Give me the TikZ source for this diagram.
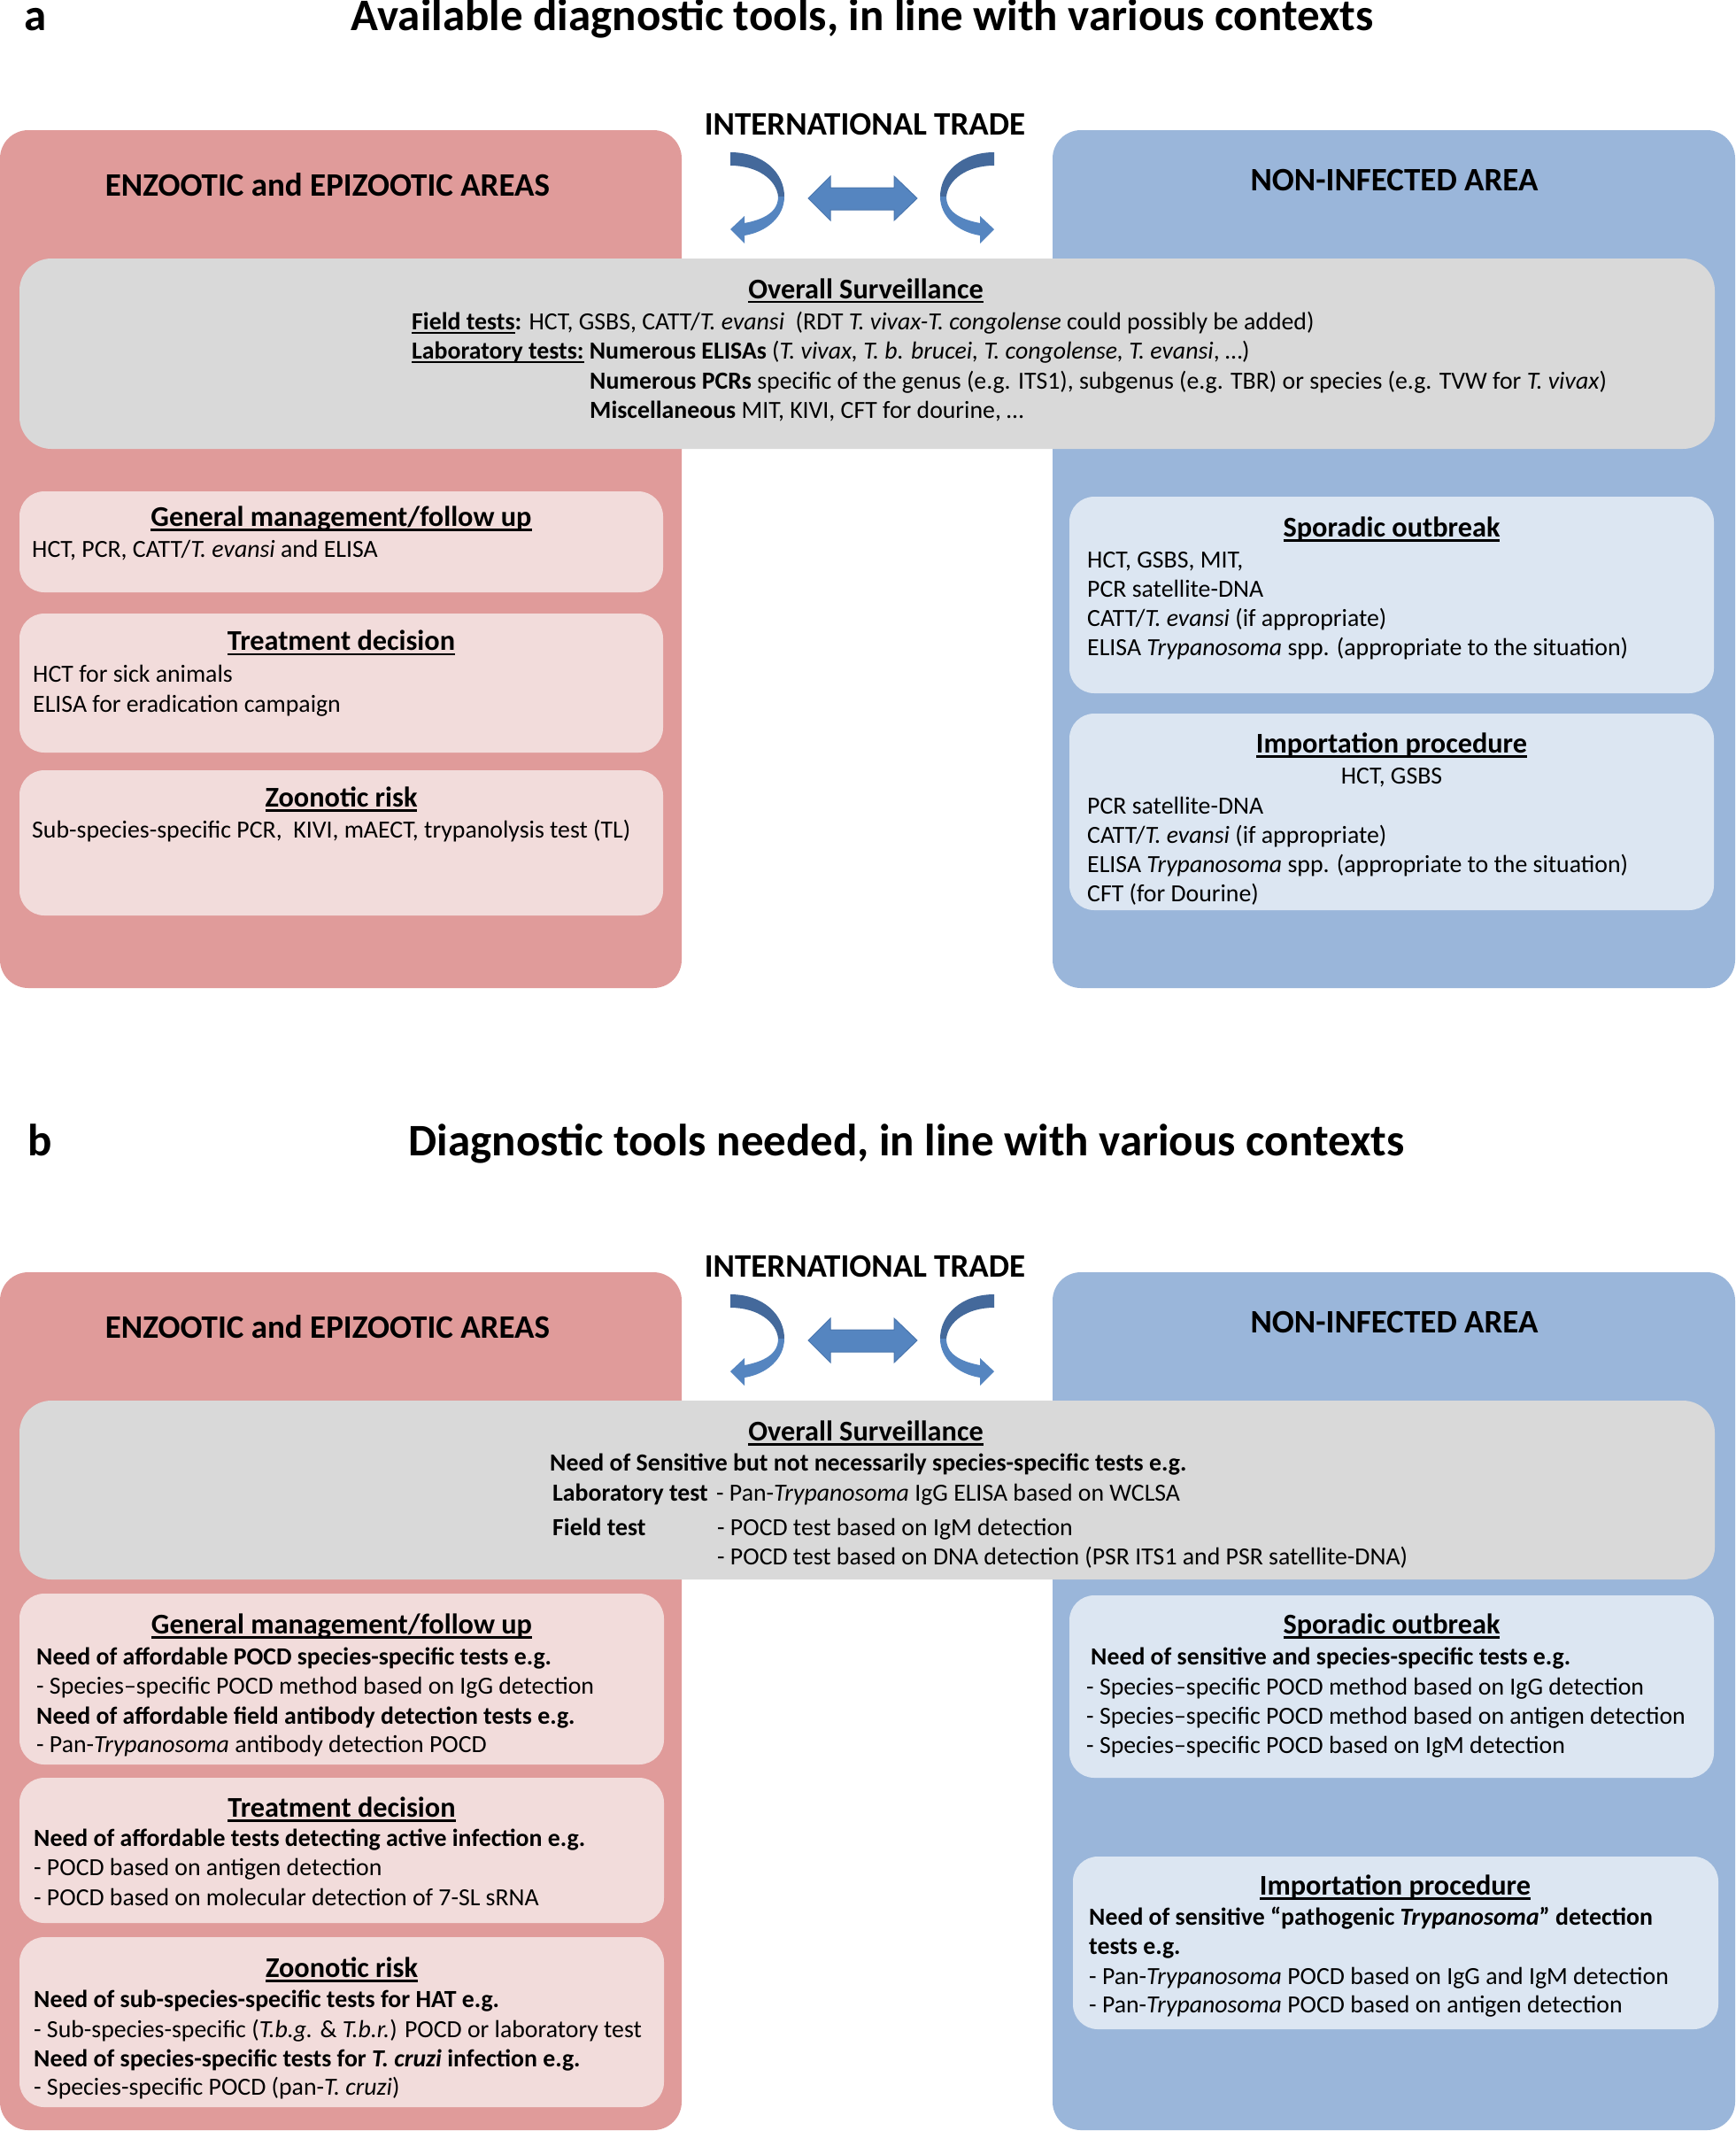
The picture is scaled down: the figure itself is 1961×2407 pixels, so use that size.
\documentclass[tikz,border=0pt]{standalone}
\usepackage{fontspec}
\setmainfont{Carlito}
\definecolor{pinkpanel}{HTML}{E09B9A}
\definecolor{pinkbox}{HTML}{F2DCDB}
\definecolor{bluepanel}{HTML}{9AB6DA}
\definecolor{bluebox}{HTML}{DCE6F2}
\definecolor{graybox}{HTML}{D9D9D9}
\definecolor{arrlight}{HTML}{5585C0}
\definecolor{arrdark}{HTML}{44699B}
\definecolor{arredge}{HTML}{4A76AE}
\newcommand\myul[1]{\setbox0=\hbox{#1}\rlap{\rule[-0.17em]{\wd0}{0.07em}}\box0\relax}
\newcommand\bodyfont{\fontsize{27.8}{33.5}\selectfont}
\newcommand\hdfont{\bfseries\fontsize{32.3}{38}\selectfont}
\newcommand\titlefont{\bfseries\fontsize{51}{60}\selectfont}
\newcommand\areafont{\bfseries\fontsize{37}{44}\selectfont}
\tikzset{
  txt/.style={anchor=base west, inner sep=0pt, font=\bodyfont},
  ctxt/.style={anchor=base, inner sep=0pt, font=\bodyfont},
  hd/.style={anchor=base, inner sep=0pt, font=\hdfont},
  titlestyle/.style={anchor=base, inner sep=0pt, font=\titlefont},
  letterstyle/.style={anchor=base west, inner sep=0pt, font=\titlefont},
  areastyle/.style={anchor=base, inner sep=0pt, font=\areafont},
  panelshape/.style={rounded corners=32pt},
  boxshape/.style={rounded corners=28pt},
  trade/.pic={
    \fill[pinkpanel, panelshape] (0,147) rectangle (770,1116);
    \fill[bluepanel, panelshape] (1189,147) rectangle (1960,1116);
    \node[areastyle] (-it) at (977,152) {INTERNATIONAL TRADE};
    \node[areastyle] (-enz) at (370,221) {ENZOOTIC and EPIZOOTIC AREAS};
    \node[areastyle] (-non) at (1575,215) {NON-INFECTED AREA};
    % left curved arrow
    \fill[arrdark] (825,172) .. controls (862,172) and (886,195) .. (886,222)
      -- (879,222) .. controls (877,203) and (856,187) .. (825,187) -- cycle;
    \fill[arrlight] (886,222) .. controls (886,245) and (866,262) .. (841,266)
      -- (841,275) -- (825,259) -- (841,244) -- (841,252)
      .. controls (862,248) and (879,240) .. (879,222) -- cycle;
    % right curved arrow (mirror)
    \fill[arrdark] (1123,172) .. controls (1086,172) and (1062,195) .. (1062,222)
      -- (1069,222) .. controls (1071,203) and (1092,187) .. (1123,187) -- cycle;
    \fill[arrlight] (1062,222) .. controls (1062,245) and (1082,262) .. (1107,266)
      -- (1107,275) -- (1123,259) -- (1107,244) -- (1107,252)
      .. controls (1086,248) and (1069,240) .. (1069,222) -- cycle;
    % double arrow
    \filldraw[fill=arrlight, draw=arredge, line width=1pt]
      (913,224) -- (938,199) -- (938,212) -- (1010,212) -- (1010,199)
      -- (1036,224) -- (1010,249) -- (1010,237) -- (938,237) -- (938,249) -- cycle;
  }
}
\begin{document}
\begin{tikzpicture}[x=1pt,y=-1pt]
\useasboundingbox (0,0) rectangle (1961,2407);
\fill[white] (0,0) rectangle (1961,2407);

%================ PANEL A ================
\node[letterstyle] (la) at (27,34) {a};
\node[titlestyle] (ta) at (974,34) {Available diagnostic tools, in line with various contexts};
\pic (pa) at (0,0) {trade};

\fill[graybox, rounded corners=36pt] (22,292) rectangle (1937,507);
\node[hd] (a-os) at (978,337) {\myul{Overall Surveillance}};
\node[txt] (a-f) at (465,372) {\textbf{\myul{Field tests}:} HCT, GSBS, CATT/\textit{T. evansi}\ \ (RDT \textit{T. vivax-T. congolense} could possibly be added)};
\node[txt] (a-l) at (465,405.5) {\textbf{\myul{Laboratory tests:} Numerous ELISAs} (\textit{T. vivax, T. b. brucei, T. congolense, T. evansi}, …)};
\node[txt] (a-p) at (666,439) {\textbf{Numerous PCRs} specific of the genus (e.g. ITS1), subgenus (e.g. TBR) or species (e.g. TVW for \textit{T. vivax})};
\node[txt] (a-m) at (666,472.5) {\textbf{Miscellaneous} MIT, KIVI, CFT for dourine, …};

% left boxes a
\fill[pinkbox, boxshape] (22,555) rectangle (749,669);
\node[hd] (a-gm) at (385.5,594) {\myul{General management/follow up}};
\node[txt] (a-gm1) at (36,629) {HCT, PCR, CATT/\textit{T. evansi} and ELISA};

\fill[pinkbox, boxshape] (22,693) rectangle (749,850);
\node[hd] (a-td) at (385.5,734.5) {\myul{Treatment decision}};
\node[txt] (a-td1) at (37,770) {HCT for sick animals};
\node[txt] (a-td2) at (37,804) {ELISA for eradication campaign};

\fill[pinkbox, boxshape] (22,870) rectangle (749,1034);
\node[hd] (a-zr) at (385.5,911) {\myul{Zoonotic risk}};
\node[txt] (a-zr1) at (36,946) {Sub-species-specific PCR,\ \ KIVI, mAECT, trypanolysis test (TL)};

% right boxes a
\fill[bluebox, boxshape] (1208,561) rectangle (1936,783);
\node[hd] (a-so) at (1572,606) {\myul{Sporadic outbreak}};
\node[txt] (a-so1) at (1228,641) {HCT, GSBS, MIT,};
\node[txt] (a-so2) at (1228,674) {PCR satellite-DNA};
\node[txt] (a-so3) at (1228,707) {CATT/\textit{T. evansi} (if appropriate)};
\node[txt] (a-so4) at (1228,740) {ELISA \textit{Trypanosoma} spp. (appropriate to the situation)};

\fill[bluebox, boxshape] (1208,806) rectangle (1936,1028);
\node[hd] (a-ip) at (1572,850) {\myul{Importation procedure}};
\node[ctxt] (a-ip0) at (1572,885) {HCT, GSBS};
\node[txt] (a-ip1) at (1228,919) {PCR satellite-DNA};
\node[txt] (a-ip2) at (1228,952) {CATT/\textit{T. evansi} (if appropriate)};
\node[txt] (a-ip3) at (1228,985) {ELISA \textit{Trypanosoma} spp. (appropriate to the situation)};
\node[txt] (a-ip4) at (1228,1018) {CFT (for Dourine)};

%================ PANEL B ================
\node[letterstyle] (lb) at (31,1305) {b};
\node[titlestyle] (tb) at (1024,1305) {Diagnostic tools needed, in line with various contexts};
\pic (pb) at (0,1290) {trade};

\fill[graybox, rounded corners=36pt] (22,1582) rectangle (1937,1784);
\node[hd] (b-os) at (978,1627) {\myul{Overall Surveillance}};
\node[txt] (b-n) at (621,1661) {\textbf{Need of Sensitive but not necessarily species-specific tests e.g.}};
\node[txt] (b-l) at (624,1695) {\textbf{Laboratory test}};
\node[txt] (b-l1) at (809,1695) {- Pan-\textit{Trypanosoma} IgG ELISA based on WCLSA};
\node[txt] (b-f) at (624,1734) {\textbf{Field test}};
\node[txt] (b-f1) at (810,1734) {- POCD test based on IgM detection};
\node[txt] (b-f2) at (810,1767) {- POCD test based on DNA detection (PSR ITS1 and PSR satellite-DNA)};

% left boxes b
\fill[pinkbox, boxshape] (22,1800) rectangle (750,1993);
\node[hd] (b-gm) at (386,1845) {\myul{General management/follow up}};
\node[txt] (b-gm1) at (41,1880) {\textbf{Need of affordable POCD species-specific tests e.g.}};
\node[txt] (b-gm2) at (41,1913) {- Species–specific POCD method based on IgG detection};
\node[txt] (b-gm3) at (41,1947) {\textbf{Need of affordable field antibody detection tests e.g.}};
\node[txt] (b-gm4) at (41,1979) {- Pan-\textit{Trypanosoma} antibody detection POCD};

\fill[pinkbox, boxshape] (22,2008) rectangle (750,2172);
\node[hd] (b-td) at (386,2052) {\myul{Treatment decision}};
\node[txt] (b-td1) at (38,2085) {\textbf{Need of affordable tests detecting active infection e.g.}};
\node[txt] (b-td2) at (38,2118.5) {- POCD based on antigen detection};
\node[txt] (b-td3) at (38,2152) {- POCD based on molecular detection of 7-SL sRNA};

\fill[pinkbox, boxshape] (22,2188) rectangle (750,2380);
\node[hd] (b-zr) at (386,2233) {\myul{Zoonotic risk}};
\node[txt] (b-zr1) at (38,2267) {\textbf{Need of sub-species-specific tests for HAT e.g.}};
\node[txt] (b-zr2) at (38,2301) {- Sub-species-specific (\textit{T.b.g.} \& \textit{T.b.r.}) POCD or laboratory test};
\node[txt] (b-zr3) at (38,2334) {\textbf{Need of species-specific tests for \textit{T. cruzi} infection e.g.}};
\node[txt] (b-zr4) at (38,2366.5) {- Species-specific POCD (pan-\textit{T. cruzi})};

% right boxes b
\fill[bluebox, boxshape] (1208,1802) rectangle (1936,2008);
\node[hd] (b-so) at (1572,1845) {\myul{Sporadic outbreak}};
\node[txt] (b-so1) at (1232,1880.5) {\textbf{Need of sensitive and species-specific tests e.g.}};
\node[txt] (b-so2) at (1227,1914) {- Species–specific POCD method based on IgG detection};
\node[txt] (b-so3) at (1227,1947) {- Species–specific POCD method based on antigen detection};
\node[txt] (b-so4) at (1227,1980) {- Species–specific POCD based on IgM detection};

\fill[bluebox, boxshape] (1212,2097) rectangle (1941,2292);
\node[hd] (b-ip) at (1576,2140) {\myul{Importation procedure}};
\node[txt] (b-ip1) at (1230,2174) {\textbf{Need of sensitive “pathogenic \textit{Trypanosoma}” detection}};
\node[txt] (b-ip2) at (1230,2207) {\textbf{tests e.g.}};
\node[txt] (b-ip3) at (1230,2241.5) {- Pan-\textit{Trypanosoma} POCD based on IgG and IgM detection};
\node[txt] (b-ip4) at (1230,2273) {- Pan-\textit{Trypanosoma} POCD based on antigen detection};
\end{tikzpicture}
\end{document}
